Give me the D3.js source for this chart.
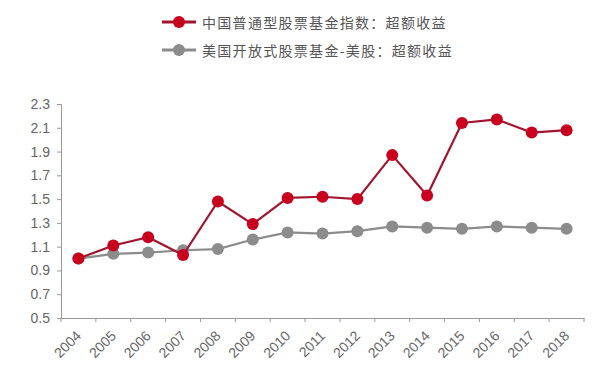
<!DOCTYPE html>
<html><head><meta charset="utf-8">
<script src="https://cdn.jsdelivr.net/npm/d3@7"></script>
<style>body{margin:0;background:#fff}svg{display:block}</style>
</head><body>
<svg id="c" width="600" height="376"></svg>
<script>
const years = ["2004","2005","2006","2007","2008","2009","2010","2011","2012","2013","2014","2015","2016","2017","2018"];
const chinaValues = [1.00,1.11,1.18,1.03,1.48,1.29,1.51,1.52,1.50,1.87,1.53,2.14,2.17,2.06,2.08];
const usValues = [1.00,1.04,1.05,1.07,1.08,1.16,1.22,1.21,1.23,1.27,1.26,1.25,1.27,1.26,1.25];
const yTicks = [0.5,0.7,0.9,1.1,1.3,1.5,1.7,1.9,2.1,2.3];
const seriesNames = ["中国普通型股票基金指数：超额收益","美国开放式股票基金-美股：超额收益"];

const svg = d3.select("#c");
const x = d3.scaleBand().domain(years).range([61,584]);
const y = d3.scaleLinear().domain([0.5,2.3]).range([318,104]);

const gy = svg.append("g").attr("transform","translate(61,0)")
  .call(d3.axisLeft(y).tickValues(yTicks).tickFormat(d3.format(".1f")).tickSize(4).tickPadding(7));
const gx = svg.append("g").attr("transform","translate(0,318)")
  .call(d3.axisBottom(x).tickSize(0).tickFormat(d=>d));
// boundary ticks
const bounds = years.map(d=>x(d)).concat([x.range()[1]]);
gx.selectAll(".bt").data(bounds).enter().append("line").attr("class","bt")
  .attr("x1",d=>d).attr("x2",d=>d).attr("y1",0).attr("y2",4).attr("stroke","#999");
[gy,gx].forEach(g=>{
  g.select(".domain").attr("stroke","#999");
  g.selectAll(".tick line").attr("stroke","#999");
  g.selectAll("text").attr("fill","#666").style("font-family","Arial, 'Liberation Sans', sans-serif").style("font-size","14px");
});
gx.selectAll(".tick text")
  .attr("text-anchor","end").attr("dy",null).attr("y",0)
  .attr("transform","translate(1,16) rotate(-45)").attr("dominant-baseline","middle");

const line = d3.line().x((d,i)=>x(years[i])+x.bandwidth()/2).y(d=>y(d));
const series = [
  {vals: usValues, line:"#8c8c8c", fill:"#8c8c8c"},
  {vals: chinaValues, line:"#a3152e", fill:"#c8001e"}
];
series.forEach(s=>{
  svg.append("path").datum(s.vals).attr("d",line).attr("fill","none").attr("stroke",s.line).attr("stroke-width",2.2);
  svg.selectAll(null).data(s.vals).enter().append("circle")
    .attr("cx",(d,i)=>x(years[i])+x.bandwidth()/2).attr("cy",d=>y(d)).attr("r",6).attr("fill",s.fill);
});

// legend
const leg = [{name:seriesNames[0],line:"#a3152e",fill:"#c8001e",y:22},{name:seriesNames[1],line:"#8c8c8c",fill:"#8c8c8c",y:50}];
leg.forEach(l=>{
  svg.append("line").attr("x1",162).attr("x2",196).attr("y1",l.y).attr("y2",l.y).attr("stroke",l.line).attr("stroke-width",3);
  svg.append("circle").attr("cx",179).attr("cy",l.y).attr("r",6).attr("fill",l.fill);
  svg.append("text").attr("x",202).attr("y",l.y).attr("dominant-baseline","central")
    .attr("fill","#555").style("font-family","'Noto Sans CJK SC', sans-serif").style("font-size","14px")
    .style("letter-spacing","1.3px").text(l.name);
});
</script>
</body></html>
